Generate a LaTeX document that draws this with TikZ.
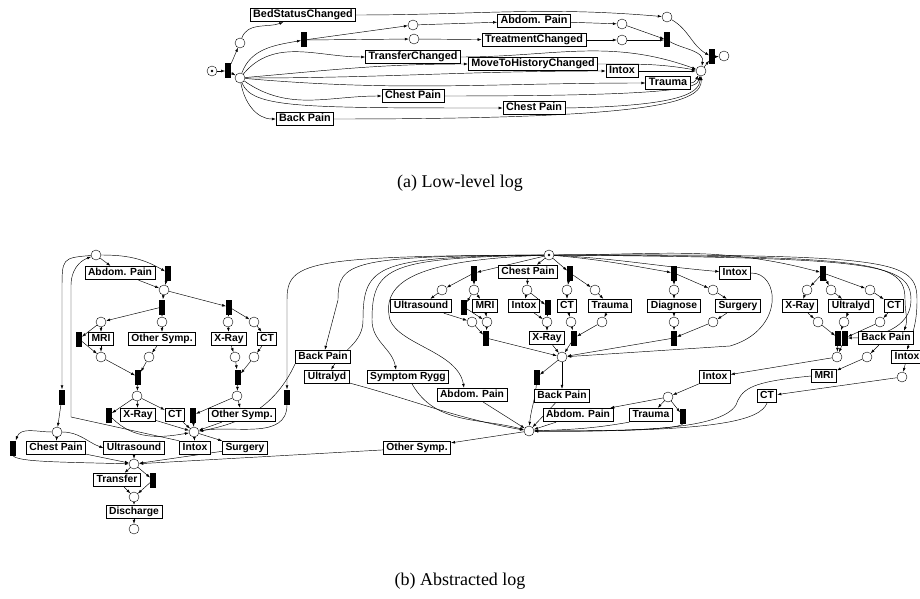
\documentclass[tikz,border=0pt]{standalone}
\usepackage{fontspec}
\setmainfont{Liberation Serif}
\setsansfont{Liberation Sans}
\usetikzlibrary{arrows.meta,backgrounds}

\begin{document}
\begin{tikzpicture}[x=1pt,y=1pt,
    pl/.style={circle,draw,fill=white,minimum size=10pt,inner sep=0pt,line width=.4pt},
    tr/.style={rectangle,fill=black,minimum width=5.5pt,minimum height=15pt,inner sep=0pt},
    act/.style={rectangle,draw,fill=white,line width=.8pt,inner xsep=3pt,inner ysep=2pt,
        text height=7.5pt,text depth=2pt,font=\sffamily\bfseries\fontsize{#1}{12}\selectfont},
    act/.default=10.3,
    arc/.style={-{Latex[length=4pt,width=2.8pt]},line width=.45pt},
    captxt/.style={font=\fontsize{18}{20}\selectfont}]

    \useasboundingbox (0,0) rectangle (920,-599);

    % (a) Low-level log: places and transitions
    \node[pl] (pS) at (212,-71) {};
    \fill (pS) circle (1.3pt);
    \node[tr] (tS) at (228,-71) {};
    \node[pl] (p1) at (240,-43) {};
    \node[pl] (p2) at (240,-78) {};
    \node[tr] (t2) at (304,-40) {};
    \node[pl] (pA) at (413,-25) {};
    \node[pl] (pB) at (414,-39) {};
    \node[pl] (pC) at (622,-24) {};
    \node[pl] (pD) at (622,-40) {};
    \node[pl] (pE) at (667,-17) {};
    \node[tr] (t3) at (667,-40) {};
    \node[pl] (pF) at (701,-71) {};
    \node[tr] (tE) at (712,-57) {};
    \node[pl] (pEnd) at (724,-56) {};

    % (a) activities
    \node[act=10.8] (bed) at (303,-15) {BedStatusChanged};
    \node[act=10.8] (trf) at (413,-57) {TransferChanged};
    \node[act=10.8] (cp1) at (413,-96) {Chest Pain};
    \node[act=10.8] (bp) at (305,-119) {Back Pain};
    \node[act=10.8] (abd) at (534,-21) {Abdom. Pain};
    \node[act=10.8] (trt) at (534,-40) {TreatmentChanged};
    \node[act=10.8] (mthc) at (533,-64) {MoveToHistoryChanged};
    \node[act=10.8] (intA) at (622,-71) {Intox};
    \node[act=10.8] (trau) at (668,-83) {Trauma};
    \node[act=10.8] (cp2) at (534,-108) {Chest Pain};

    % (a) arcs
    \begin{scope}[on background layer]
    \draw[arc] (pS) -- (tS);
    \draw[arc] (tS) -- (p1);
    \draw[arc] (tS) -- (p2);
    \draw[arc] (p1) to[out=70,in=200] (bed);
    \draw[arc] (bed) to[out=0,in=175] (pE);
    \draw[arc] (p2) to[out=70,in=190] (t2);
    \draw[arc] (t2) -- (pA);
    \draw[arc] (t2) -- (pB);
    \draw[arc] (pA) -- (abd);
    \draw[arc] (abd) -- (pC);
    \draw[arc] (pB) -- (trt);
    \draw[arc] (trt) -- (pD);
    \draw[arc] (pC) -- (t3);
    \draw[arc] (pD) -- (t3);
    \draw[arc] (t3) to[out=-30,in=80] (pF);
    \draw[arc] (pE) to[out=-30,in=150] (tE);
    \draw[arc] (pF) -- (tE);
    \draw[arc] (tE) -- (pEnd);
    \draw[arc] (p2) to[out=50,in=180] (trf);
    \draw[arc] (trf) to[out=0,in=160] (pF);
    \draw[arc] (p2) to[out=5,in=180] (mthc);
    \draw[arc] (mthc) to[out=0,in=170] (pF);
    \draw[arc] (p2) to[out=0,in=180] (intA);
    \draw[arc] (intA) -- (pF);
    \draw[arc] (p2) to[out=-5,in=180] (trau);
    \draw[arc] (trau) to[out=0,in=-120] (pF);
    \draw[arc] (p2) to[out=-35,in=180] (cp1);
    \draw[arc] (cp1.east) .. controls (680,-96) and (697,-88) .. (pF);
    \draw[arc] (p2) .. controls (252,-108) and (300,-108) .. (cp2.west);
    \draw[arc] (cp2.east) .. controls (685,-106) and (699,-92) .. (pF);
    \draw[arc] (p2) to[out=-80,in=180] (bp);
    \draw[arc] (bp.east) .. controls (660,-119) and (702,-102) .. (pF);
    \end{scope}

    \node[captxt] (capA) at (460,-183) {(a) Low-level log};

    % (b) left net
    \node[pl] (pL0) at (96,-255) {};
    \node[act] (abdL) at (120,-273) {Abdom. Pain};
    \node[tr] (tL1) at (168,-273) {};
    \node[pl] (pL1) at (164,-290) {};
    \node[tr] (tL2) at (162,-307) {};
    \node[tr] (tL3) at (229,-307) {};
    \node[pl] (pL2a) at (101,-322) {};
    \node[pl] (pL2b) at (162,-322) {};
    \node[pl] (pL2c) at (228,-322) {};
    \node[pl] (pL2d) at (254,-322) {};
    \node[tr] (tL4) at (79,-339) {};
    \node[act] (mriL) at (101,-339) {MRI};
    \node[act] (osL) at (162,-339) {Other Symp.};
    \node[act] (xrL) at (229,-339) {X-Ray};
    \node[act] (ctL) at (267,-339) {CT};
    \node[pl] (pL3a) at (101,-357) {};
    \node[pl] (pL3b) at (149,-357) {};
    \node[pl] (pL3c) at (235,-357) {};
    \node[pl] (pL3d) at (254,-357) {};
    \node[tr] (tL5) at (138,-377) {};
    \node[tr] (tL6) at (238,-377) {};
    \node[pl] (pL4a) at (137,-396) {};
    \node[pl] (pL4b) at (237,-396) {};
    \node[tr] (tL7) at (62,-397) {};
    \node[tr] (tL10) at (287,-397) {};
    \node[tr] (tL8) at (109,-415) {};
    \node[act] (xrL2) at (138,-415) {X-Ray};
    \node[act] (ctL2) at (175,-415) {CT};
    \node[tr] (tL9) at (193,-415) {};
    \node[act] (osL2) at (242,-415) {Other Symp.};
    \node[pl] (pL5) at (194,-432) {};
    \node[pl] (pL6) at (57,-432) {};
    \node[tr] (tL11) at (13,-448) {};
    \node[act] (cpL) at (56,-448) {Chest Pain};
    \node[act] (usL) at (134,-448) {Ultrasound};
    \node[act] (intL) at (195,-448) {Intox};
    \node[act] (surL) at (245,-448) {Surgery};
    \node[pl] (pL7) at (134,-464) {};
    \node[act] (trfL) at (117,-480) {Transfer};
    \node[tr] (tL12) at (153,-480) {};
    \node[pl] (pL8) at (134,-497) {};
    \node[act] (disL) at (134,-512) {Discharge};
    \node[pl] (pL9) at (134,-529) {};

    % (b) middle and right net
    \node[pl] (pT) at (549,-255) {};
    \fill (pT) circle (1.3pt);
    \node[tr] (tM1) at (474,-273) {};
    \node[act] (cpM) at (528,-272) {Chest Pain};
    \node[tr] (tM2) at (570,-273) {};
    \node[tr] (tM3) at (674,-273) {};
    \node[act] (intT) at (735,-273) {Intox};
    \node[tr] (tM4) at (823,-273) {};
    \node[pl] (pM1a) at (442,-290) {};
    \node[pl] (pM1b) at (474,-290) {};
    \node[pl] (pM2a) at (527,-290) {};
    \node[pl] (pM3a) at (567,-290) {};
    \node[pl] (pM3b) at (595,-290) {};
    \node[pl] (pM4a) at (674,-290) {};
    \node[pl] (pM4b) at (713,-290) {};
    \node[pl] (pM5a) at (807,-290) {};
    \node[pl] (pM5b) at (831,-290) {};
    \node[pl] (pM5c) at (870,-290) {};
    \node[act] (usM) at (421,-306) {Ultrasound};
    \node[tr] (tM1c) at (464,-307) {};
    \node[act] (mriM) at (485,-306) {MRI};
    \node[act] (intM) at (524,-306) {Intox};
    \node[tr] (tM2b) at (548,-307) {};
    \node[act] (ctM) at (567,-306) {CT};
    \node[act] (trauM) at (610,-306) {Trauma};
    \node[act] (diag) at (674,-306) {Diagnose};
    \node[act] (surM) at (738,-306) {Surgery};
    \node[act] (xrR) at (800,-306) {X-Ray};
    \node[act] (ulR) at (851,-306) {Ultralyd};
    \node[act] (ctR) at (894,-306) {CT};
    \node[pl] (pM1c) at (472,-322) {};
    \node[pl] (pM1d) at (487,-322) {};
    \node[pl] (pM2b) at (547,-322) {};
    \node[pl] (pM3c) at (571,-322) {};
    \node[pl] (pM3d) at (602,-322) {};
    \node[pl] (pM4c) at (674,-322) {};
    \node[pl] (pM4d) at (713,-322) {};
    \node[pl] (pM5d) at (818,-322) {};
    \node[pl] (pM5e) at (844,-322) {};
    \node[pl] (pM5f) at (880,-322) {};
    \node[tr] (tM1d) at (486,-338) {};
    \node[act] (xrM) at (547,-338) {X-Ray};
    \node[tr] (tM2c) at (574,-338) {};
    \node[tr] (tM3b) at (674,-338) {};
    \node[tr] (tM5a) at (838,-338) {};
    \node[tr] (tM5b) at (845,-338) {};
    \node[act] (bpR) at (886,-338) {Back Pain};
    \node[act] (bpM) at (323,-357) {Back Pain};
    \node[pl] (pM) at (562,-357) {};
    \node[pl] (pM5g) at (837,-357) {};
    \node[pl] (pM5h) at (867,-357) {};
    \node[act] (intR) at (907,-357) {Intox};
    \node[act] (ulM) at (327,-377) {Ultralyd};
    \node[act] (srM) at (408,-377) {Symptom Rygg};
    \node[tr] (tM7) at (537,-377) {};
    \node[act] (intMid) at (715,-377) {Intox};
    \node[act] (mriR) at (824,-376) {MRI};
    \node[pl] (pM5i) at (902,-377) {};
    \node[act] (abdM) at (472,-395) {Abdom. Pain};
    \node[act] (bpM3) at (562,-396) {Back Pain};
    \node[pl] (pM6) at (668,-397) {};
    \node[act] (ctR2) at (767,-396) {CT};
    \node[act] (abdR) at (578,-415) {Abdom. Pain};
    \node[act] (trauR) at (651,-415) {Trauma};
    \node[tr] (tM6) at (683,-416) {};
    \node[pl] (pBig) at (529,-431) {};
    \node[act] (osM) at (417,-448) {Other Symp.};

    \begin{scope}[on background layer]
    % (b) arcs, left net
    \draw[arc] (pL0) -- (abdL);
    \draw[arc] (pL0) to[out=0,in=150] (tL1);
    \draw[arc] (abdL) -- (pL1);
    \draw[arc] (tL1) -- (pL1);
    \draw[arc] (pL1) -- (tL2);
    \draw[arc] (pL1) -- (tL3);
    \draw[arc] (tL2) -- (pL2a);
    \draw[arc] (tL2) -- (pL2b);
    \draw[arc] (tL3) -- (pL2c);
    \draw[arc] (tL3) -- (pL2d);
    \draw[arc] (pL2a) -- (tL4);
    \draw[arc] (pL2a) -- (mriL);
    \draw[arc] (tL4) -- (pL3a);
    \draw[arc] (mriL) -- (pL3a);
    \draw[arc] (pL2b) -- (osL);
    \draw[arc] (osL) -- (pL3b);
    \draw[arc] (pL2c) -- (xrL);
    \draw[arc] (xrL) -- (pL3c);
    \draw[arc] (pL2d) -- (ctL);
    \draw[arc] (ctL) -- (pL3d);
    \draw[arc] (pL3a) -- (tL5);
    \draw[arc] (pL3b) -- (tL5);
    \draw[arc] (pL3c) -- (tL6);
    \draw[arc] (pL3d) -- (tL6);
    \draw[arc] (tL5) -- (pL4a);
    \draw[arc] (tL6) -- (pL4b);
    \draw[arc] (pL4a) -- (tL8);
    \draw[arc] (pL4a) -- (xrL2);
    \draw[arc] (pL4a) -- (ctL2);
    \draw[arc] (pL4b) -- (tL9);
    \draw[arc] (pL4b) -- (osL2);
    \draw[arc] (tL8) to[out=-45,in=190] (pL5);
    \draw[arc] (xrL2) -- (pL5);
    \draw[arc] (ctL2) -- (pL5);
    \draw[arc] (tL9) -- (pL5);
    \draw[arc] (osL2) -- (pL5);
    \draw[arc] (tL10) to[out=-90,in=10] (pL5);
    \draw[arc] (bpM.south west) to[out=-115,in=10] (pL5);
    \draw[arc] (pL5) -- (intL);
    \draw[arc] (pL5) -- (surL);
    \draw[arc] (intL.north west) -- (71,-417) -- (71,-285) to[out=90,in=200] (pL0);
    \draw[arc] (pL0) .. controls (62,-258) .. (62,-290) -- (tL7);
    \draw[arc] (tL7) -- (pL6);
    \draw[arc] (pL6) to[out=180,in=70] (tL11);
    \draw[arc] (pL6) -- (cpL);
    \draw[arc] (pL6) to[out=0,in=160] (usL.west);
    \draw[arc] (tL11.south) .. controls (18,-462) and (60,-462) .. (pL7);
    \draw[arc] (cpL) -- (pL7);
    \draw[arc] (usL) -- (pL7);
    \draw[arc] (surL) -- (pL7);
    \draw[arc] (osM) -- (pL7);
    \draw[arc] (pL7) -- (trfL);
    \draw[arc] (pL7) -- (tL12);
    \draw[arc] (trfL) -- (pL8);
    \draw[arc] (tL12) -- (pL8);
    \draw[arc] (pL8) -- (disL);
    \draw[arc] (disL) -- (pL9);

    % (b) arcs from the top place
    \draw[arc] (pT) .. controls (305,-256) and (287,-262) .. (287,-300) -- (tL10);
    \draw[arc] (pT) .. controls (350,-256) and (338,-262) .. (338,-300) -- (bpM);
    \draw[arc] (pT) .. controls (378,-257) and (363,-264) .. (363,-320) to[out=-90,in=60] (ulM);
    \draw[arc] (pT) .. controls (390,-258) and (372,-266) .. (372,-320) to[out=-90,in=100] ([xshift=-12pt]srM.north);
    \draw[arc] (pT) .. controls (420,-260) and (380,-280) .. (390,-320)
        .. controls (400,-345) and (458,-352) .. ([xshift=-8pt]abdM.north);
    \draw[arc] (pT) -- (tM1);
    \draw[arc] (pT) -- (cpM);
    \draw[arc] (pT) -- (tM2);
    \draw[arc] (pT) to[out=-5,in=170] (tM3);
    \draw[arc] (pT) to[out=-3,in=175] (intT);
    \draw[arc] (pT) to[out=0,in=165] (tM4);
    \draw[arc] (pT) .. controls (880,-256) and (905,-262) .. (905,-300) to[out=-90,in=70] ([xshift=-10pt]bpR.north east);
    \draw[arc] (pT) .. controls (870,-258) and (911,-262) .. (911,-300) to[out=-90,in=0] (tM5b);
    \draw[arc] (pT) .. controls (895,-254) and (917,-260) .. (917,-300) to[out=-90,in=70] (intR.north);

    % (b) arcs, middle net
    \draw[arc] (tM1) -- (pM1a);
    \draw[arc] (tM1) -- (pM1b);
    \draw[arc] (pM1a) -- (usM);
    \draw[arc] (pM1b) -- (tM1c);
    \draw[arc] (pM1b) -- (mriM);
    \draw[arc] (usM) -- (pM1c);
    \draw[arc] (tM1c) -- (pM1d);
    \draw[arc] (mriM) -- (pM1d);
    \draw[arc] (pM1c) -- (tM1d);
    \draw[arc] (pM1d) -- (tM1d);
    \draw[arc] (tM1d) -- (pM);
    \draw[arc] (cpM) -- (pM2a);
    \draw[arc] (pM2a) -- (intM);
    \draw[arc] (pM2a) -- (tM2b);
    \draw[arc] (intM) -- (pM2b);
    \draw[arc] (tM2b) -- (pM2b);
    \draw[arc] (pM2b) -- (xrM);
    \draw[arc] (xrM) -- (pM);
    \draw[arc] (tM2) -- (pM3a);
    \draw[arc] (tM2) -- (pM3b);
    \draw[arc] (pM3a) -- (ctM);
    \draw[arc] (pM3b) -- (trauM);
    \draw[arc] (ctM) -- (pM3c);
    \draw[arc] (trauM) -- (pM3d);
    \draw[arc] (pM3c) -- (tM2c);
    \draw[arc] (pM3d) -- (tM2c);
    \draw[arc] (tM2c) -- (pM);
    \draw[arc] (tM3) -- (pM4a);
    \draw[arc] (tM3) -- (pM4b);
    \draw[arc] (pM4a) -- (diag);
    \draw[arc] (pM4b) -- (surM);
    \draw[arc] (diag) -- (pM4c);
    \draw[arc] (surM) -- (pM4d);
    \draw[arc] (pM4c) -- (tM3b);
    \draw[arc] (pM4d) -- (tM3b);
    \draw[arc] (tM3b) -- (pM);
    \draw[arc] (intT.east) .. controls (780,-272) and (785,-330) .. (730,-346) -- (pM);
    \draw[arc] (pM) -- (tM7);
    \draw[arc] (pM) -- (bpM3);

    % (b) arcs, right net
    \draw[arc] (tM4) -- (pM5a);
    \draw[arc] (tM4) -- (pM5b);
    \draw[arc] (tM4) -- (pM5c);
    \draw[arc] (pM5a) -- (xrR);
    \draw[arc] (pM5b) -- (ulR);
    \draw[arc] (pM5c) -- (ctR);
    \draw[arc] (xrR) -- (pM5d);
    \draw[arc] (ulR) -- (pM5e);
    \draw[arc] (ctR) -- (pM5f);
    \draw[arc] (pM5d) -- (tM5a);
    \draw[arc] (pM5e) -- (tM5a);
    \draw[arc] (pM5f) -- (tM5b);
    \draw[arc] (tM5a) -- (pM5g);
    \draw[arc] (tM5b) -- (pM5g);
    \draw[arc] (pM5g) -- (intMid);
    \draw[arc] (bpR) -- (pM5h);
    \draw[arc] (pM5h) -- (mriR);
    \draw[arc] (intR) -- (pM5i);
    \draw[arc] (pM5i) -- (ctR2);
    \draw[arc] (intMid) -- (pM6);
    \draw[arc] (pM6) -- (trauR);
    \draw[arc] (pM6) -- (tM6);
    \draw[arc] (pM6) -- ([xshift=-3pt]abdR.north east);

    % (b) arcs into the lower place
    \draw[arc] (ulM) to[out=-15,in=170] (pBig);
    \draw[arc] (srM) to[out=-60,in=165] (pBig);
    \draw[arc] (abdM) -- (pBig);
    \draw[arc] (tM7) to[out=-95,in=85] (pBig);
    \draw[arc] (bpM3) -- (pBig);
    \draw[arc] (abdR) -- (pBig);
    \draw[arc] (trauR.south west) to[out=-170,in=2] (pBig);
    \draw[arc] (tM6.south) .. controls (680,-430) and (600,-431) .. (pBig);
    \draw[arc] (mriR.west) .. controls (760,-381) and (745,-386) .. (738,-400)
        .. controls (732,-428) and (650,-432) .. (pBig);
    \draw[arc] (ctR2.south) .. controls (760,-420) and (720,-432) .. (pBig);
    \draw[arc] (pBig) -- (osM);
    \end{scope}

    \node[captxt] (capB) at (460,-581) {(b) Abstracted log};

\end{tikzpicture}
\end{document}
